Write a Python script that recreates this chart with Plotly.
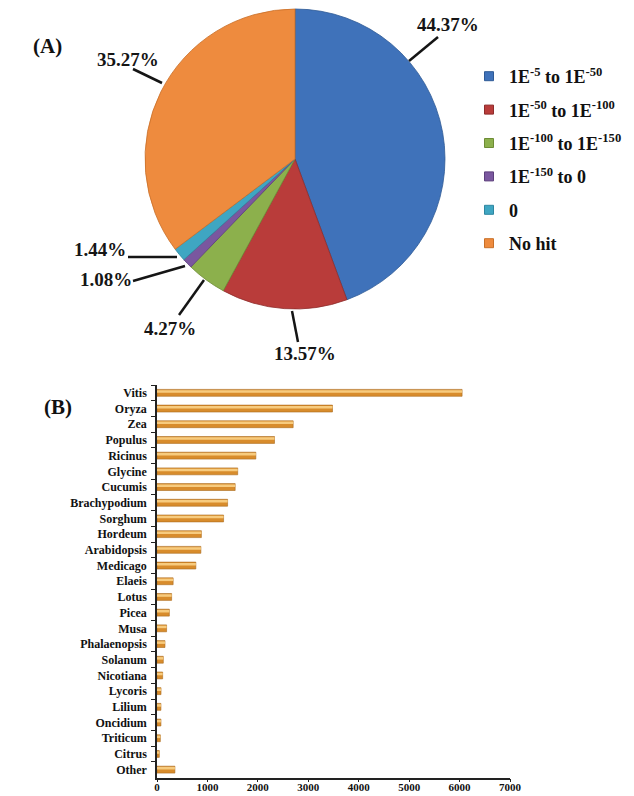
import plotly.graph_objects as go

# Page is 634x796; the HTML body has an 8px margin, so the figure is 626x788
OFF = 8
W, H = 634 - OFF, 796 - OFF

# ---------------- Data ----------------
pie_labels = ["1E<sup>-5</sup> to 1E<sup>-50</sup>",
              "1E<sup>-50</sup> to 1E<sup>-100</sup>",
              "1E<sup>-100</sup> to 1E<sup>-150</sup>",
              "1E<sup>-150</sup> to 0",
              "0",
              "No hit"]
pie_values = [44.37, 13.57, 4.27, 1.08, 1.44, 35.27]
pie_colors = ["#3F72BA", "#B93C3A", "#8CB04C", "#7A579F", "#3FA6C2", "#EE8B3E"]
pie_edge = ["#2E5A96", "#8E2C2B", "#6D8C35", "#5C3F7C", "#2E86A0", "#C86F28"]

genera = ["Vitis", "Oryza", "Zea", "Populus", "Ricinus", "Glycine", "Cucumis",
          "Brachypodium", "Sorghum", "Hordeum", "Arabidopsis", "Medicago",
          "Elaeis", "Lotus", "Picea", "Musa", "Phalaenopsis", "Solanum",
          "Nicotiana", "Lycoris", "Lilium", "Oncidium", "Triticum", "Citrus",
          "Other"]
hits = [6050, 3480, 2700, 2330, 1960, 1600, 1550, 1400, 1320, 880, 870, 770,
        320, 290, 245, 190, 158, 125, 112, 80, 78, 78, 66, 46, 355]
x_ticks = [0, 1000, 2000, 3000, 4000, 5000, 6000, 7000]

# ---------------- Layout helpers (page pixel -> paper) ----------------
def px(x):
    return (x - OFF) / W

def py(y):
    return 1 - (y - OFF) / H

FONT = "Liberation Serif, Times New Roman, serif"

fig = go.Figure()

# Pie chart (A)
fig.add_trace(go.Pie(
    values=pie_values, labels=pie_labels, sort=False, direction="clockwise",
    rotation=0, textinfo="none", hoverinfo="label+percent",
    marker=dict(colors=pie_colors, line=dict(color=pie_edge, width=0.8)),
    domain=dict(x=[px(145), px(445)], y=[py(309), py(9)]),
    showlegend=False,
))

# Legend entries for pie slices
for i, (lab, col, edge) in enumerate(zip(pie_labels, pie_colors, pie_edge)):
    fig.add_trace(go.Scatter(
        x=[None], y=[None], mode="markers", name=lab,
        marker=dict(symbol="square", size=9, color=col, line=dict(color=edge, width=1)),
        legendgroup=f"g{i}", showlegend=True, hoverinfo="skip",
    ))

# Bar chart (B): base bar + highlight for the cylinder look
fig.add_trace(go.Bar(
    x=hits, y=genera, orientation="h", width=0.44,
    marker=dict(color="#D88C2C", line=dict(color="#A9691C", width=0.6)),
    showlegend=False, hovertemplate="%{y}: %{x}<extra></extra>",
))
fig.add_trace(go.Bar(
    x=hits, y=genera, orientation="h", width=0.16, offset=-0.17,
    marker=dict(color="#F7CB7E", line=dict(width=0)),
    showlegend=False, hoverinfo="skip",
))

# Percentage labels with leader lines (A)
pct_text = [f"{v:.2f}%" for v in pie_values]
label_pos = [(448, 25), (305, 353), (170, 328), (106, 280), (100, 250), (128, 59)]
leader = [((438, 37), (409, 61)), ((298, 342), (292, 311)), ((179, 315), (204, 280)),
          ((133, 281), (185, 266)), ((128, 257), (177, 257)), ((133, 69), (162, 83))]

annotations = []
shapes = []
for t, (lx, ly), ((x0, y0), (x1, y1)) in zip(pct_text, label_pos, leader):
    annotations.append(dict(x=px(lx), y=py(ly), xref="paper", yref="paper",
                            text=t, showarrow=False, xanchor="center", yanchor="middle",
                            font=dict(family=FONT, size=19, color="#151515", weight="bold")))
    shapes.append(dict(type="line", xref="paper", yref="paper",
                       x0=px(x0), y0=py(y0), x1=px(x1), y1=py(y1),
                       line=dict(color="#151515", width=2.5)))

annotations.append(dict(x=px(31), y=py(32), xref="paper", yref="paper", text="(A)",
                        showarrow=False, font=dict(family=FONT, size=21, color="#111", weight="bold")))
annotations.append(dict(x=px(42), y=py(407), xref="paper", yref="paper", text="(B)",
                        showarrow=False, font=dict(family=FONT, size=21, color="#111", weight="bold")))

fig.update_layout(
    width=W, height=H,
    margin=dict(l=0, r=0, t=0, b=0),
    paper_bgcolor="white", plot_bgcolor="white",
    barmode="overlay",
    annotations=annotations,
    shapes=shapes,
    legend=dict(x=px(469), y=py(58), xanchor="left", yanchor="top",
                tracegroupgap=7, traceorder="grouped",
                font=dict(family=FONT, size=18, color="#111", weight="bold"),
                bgcolor="rgba(0,0,0,0)"),
    xaxis=dict(domain=[px(157), px(510)], range=[0, 7000], tickvals=x_ticks,
               showgrid=False, zeroline=False, showline=True, linecolor="#222", linewidth=1.5,
               ticks="outside", ticklen=3, tickcolor="#222", tickwidth=1.2,
               ticklabelstandoff=-4,
               tickfont=dict(family=FONT, size=11, color="#111", weight="bold"),
               automargin=False, fixedrange=True),
    yaxis=dict(domain=[py(777.5), py(385)], type="category", autorange="reversed",
               showgrid=False, zeroline=False, showline=True, linecolor="#222", linewidth=1.5,
               ticks="outside", ticklen=4, tickcolor="#222", tickwidth=1.2,
               tickson="boundaries", ticklabelstandoff=6,
               tickfont=dict(family=FONT, size=12, color="#111", weight="bold"),
               automargin=False, fixedrange=True),
)

fig.write_html("out.html")
